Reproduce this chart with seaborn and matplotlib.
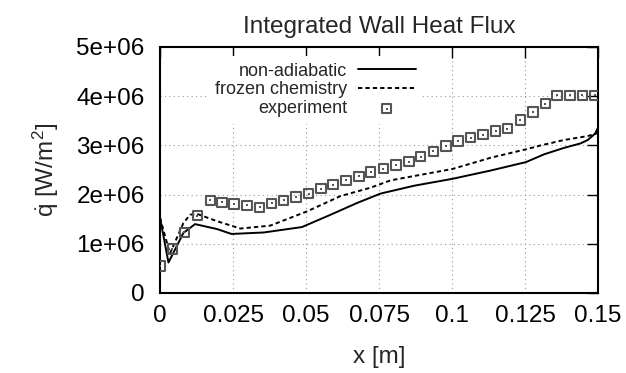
import matplotlib
matplotlib.use("Agg")
import matplotlib.pyplot as plt
import numpy as np
import pandas as pd
import seaborn as sns
from matplotlib.ticker import FuncFormatter

# values, heat flux in 1e6 W/m^2
x_nonadiabatic = [0, 0.0029, 0.0080, 0.0120, 0.0195, 0.0245, 0.0355, 0.0486, 0.0584,
                  0.0675, 0.0755, 0.0870, 0.1001, 0.1133, 0.1253, 0.1316, 0.1384,
                  0.1440, 0.1465, 0.1490, 0.1500]
q_nonadiabatic = [1.53, 0.62, 1.22, 1.40, 1.30, 1.20, 1.23, 1.34, 1.59,
                  1.83, 2.02, 2.18, 2.32, 2.49, 2.66, 2.82, 2.95,
                  3.04, 3.11, 3.24, 3.36]

x_frozen = [0, 0.0034, 0.0080, 0.0103, 0.0126, 0.0195, 0.0275, 0.0378, 0.0504, 0.0618,
            0.0721, 0.0790, 0.1001, 0.1133, 0.1253, 0.1304, 0.1384, 0.1465, 0.1493, 0.1500]
q_frozen = [1.53, 0.80, 1.42, 1.59, 1.61, 1.46, 1.31, 1.37, 1.66, 1.97,
            2.14, 2.29, 2.52, 2.75, 2.92, 3.00, 3.11, 3.19, 3.24, 3.26]

x_experiment = [0, 0.0042, 0.0083, 0.0128, 0.0172, 0.0212, 0.0254, 0.0298, 0.0341, 0.0382,
                0.0423, 0.0466, 0.0509, 0.0552, 0.0593, 0.0637, 0.0681, 0.0721, 0.0765,
                0.0808, 0.0852, 0.0893, 0.0936, 0.0979, 0.1020, 0.1064, 0.1106, 0.1149,
                0.1190, 0.1234, 0.1277, 0.1320, 0.1360, 0.1404, 0.1446, 0.1490]
q_experiment = [0.55, 0.89, 1.23, 1.57, 1.88, 1.84, 1.81, 1.78, 1.74, 1.82,
                1.88, 1.95, 2.02, 2.12, 2.20, 2.29, 2.37, 2.46, 2.53,
                2.60, 2.67, 2.77, 2.88, 2.99, 3.09, 3.16, 3.22, 3.29,
                3.34, 3.52, 3.68, 3.85, 4.02, 4.02, 4.02, 4.02]

x_ticks = [0, 0.025, 0.05, 0.075, 0.1, 0.125, 0.15]
y_ticks = [0, 1e6, 2e6, 3e6, 4e6, 5e6]

df_na = pd.DataFrame({"x": x_nonadiabatic, "q": np.array(q_nonadiabatic) * 1e6})
df_fr = pd.DataFrame({"x": x_frozen, "q": np.array(q_frozen) * 1e6})
df_ex = pd.DataFrame({"x": x_experiment, "q": np.array(q_experiment) * 1e6})

sns.set_style("white")
plt.rcParams["font.family"] = ["Liberation Sans", "DejaVu Sans"]
plt.rcParams["mathtext.fontset"] = "custom"
plt.rcParams["mathtext.rm"] = "Liberation Sans"
plt.rcParams["mathtext.it"] = "Liberation Sans:italic"

fig = plt.figure(figsize=(6.26, 3.73), dpi=100)
ax = fig.add_axes([0.2556, 0.2145, 0.6997, 0.6595])

sns.lineplot(data=df_na, x="x", y="q", ax=ax, color="black", lw=1.4,
             estimator=None, label="non-adiabatic")
sns.lineplot(data=df_fr, x="x", y="q", ax=ax, color="black", lw=1.4,
             estimator=None, label="frozen chemistry", dashes=False)
ax.lines[-1].set_dashes((2.2, 1.6))
sns.scatterplot(data=df_ex, x="x", y="q", ax=ax, marker="s", s=46,
                facecolor="none", edgecolor="#555555", linewidth=1.5, zorder=3)
sns.scatterplot(data=df_ex, x="x", y="q", ax=ax, marker="s", s=1.5,
                color="#555555", linewidth=0, zorder=3)

ax.set_xlim(0, 0.15)
ax.set_ylim(0, 5e6)
ax.set_xticks(x_ticks)
ax.set_yticks(y_ticks)
ax.xaxis.set_major_formatter(FuncFormatter(lambda v, p: f"{v:g}"))
ax.yaxis.set_major_formatter(FuncFormatter(lambda v, p: "0" if v == 0 else f"{v:.0e}"))
ax.tick_params(direction="in", length=8, width=1, top=True, right=True,
               labelsize=17.5, pad=9, colors="black")
ax.tick_params(axis="y", pad=11)

ax.grid(True, linestyle=(0, (1, 3)), color="#9a9a9a", linewidth=0.8)
for sp in ax.spines.values():
    sp.set_linewidth(1.5)
    sp.set_color("black")

ax.set_title("Integrated Wall Heat Flux", fontsize=17.5, pad=10)
ax.set_xlabel("x [m]", fontsize=17.5, labelpad=13)
ax.set_ylabel(r"$\dot{\mathrm{q}}$ [W/m$^2$]", fontsize=17.5, labelpad=11)

# gnuplot-like key: text right aligned, sample on the right, opaque box without frame
sq = ax.collections[0]
dot = ax.collections[1]
handles = [ax.lines[0], ax.lines[1], (sq, dot)]
labels = ["non-adiabatic", "frozen chemistry", "experiment"]
ax.legend(handles, labels, loc="upper right", bbox_to_anchor=(0.598, 0.962),
          borderaxespad=0, markerfirst=False, frameon=True, facecolor="white",
          edgecolor="none", framealpha=1, fancybox=False, fontsize=13,
          handlelength=3.2, handletextpad=0.6, labelspacing=0.1, borderpad=0.35)

fig.savefig("out.png", dpi=100)
